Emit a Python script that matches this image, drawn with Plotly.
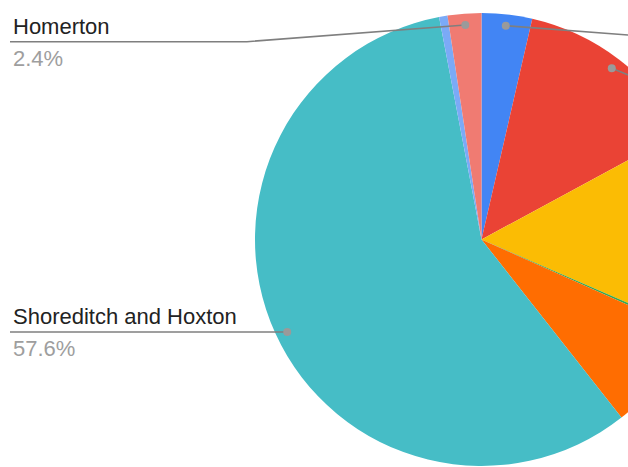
import numpy as np
import plotly.graph_objects as go

# ---- data ----
wards = ["Hackney Central", "Dalston", "Hackney Downs", "Hackney Wick",
         "Haggerston", "Shoreditch and Hoxton", "De Beauvoir", "Homerton"]
shares = [3.6, 13.5, 14.4, 0.2, 7.7, 57.6, 0.6, 2.4]
colors = ["#4285F4", "#EA4335", "#FBBC04", "#34A853",
          "#FF6D01", "#46BDC6", "#7BAAF7", "#F07B72"]
pct_labels = [f"{v:.1f}%" for v in shares]

# ---- layout geometry (pixels) ----
W, H = 900, 467
CX, CY, R = 481.5, 239.5, 226.5
FONT = "Liberation Sans, Arial, sans-serif"

def px(x):
    return x / W

def py(y):
    return 1 - y / H

fig = go.Figure(go.Pie(
    labels=wards, values=shares, sort=False, direction="clockwise", rotation=0,
    marker=dict(colors=colors, line=dict(width=0)),
    textinfo="none", hoverinfo="label+percent", showlegend=False,
    domain=dict(x=[px(CX - R), px(CX + R)], y=[py(CY + R), py(CY - R)]),
))

# leader lines / labels: index -> (side, label-line y, dot sits on label line?)
# right-side labels lie outside the visible view
labelled = {7: ("left", 41.7, False), 5: ("left", 332, True), 0: ("right", 41.7, False),
            1: ("right", 111, False), 2: ("right", None, False), 4: ("right", None, False)}

total = sum(shares)
cum = np.cumsum([0] + shares[:-1])
rd = 0.95 * R
shapes, annotations = [], []
for i, (side, ly, on_line) in labelled.items():
    mid = (cum[i] + shares[i] / 2) / total * 2 * np.pi
    dx, dy = CX + rd * np.sin(mid), CY - rd * np.cos(mid)
    if ly is None:
        ly = dy
    if on_line:
        dy = ly
        sgn = -1 if side == "left" else 1
        dx = CX + sgn * np.sqrt(rd ** 2 - (ly - CY) ** 2)
    if side == "left":
        ex, x0 = CX - 234.5, 10
    else:
        ex, x0 = CX + 234.5, 890
    shapes.append(dict(type="path", xref="paper", yref="paper",
                       path=f"M {px(x0)},{py(ly)} L {px(ex)},{py(ly)} L {px(dx)},{py(dy)}",
                       line=dict(color="#7f7f7f", width=1.6)))
    shapes.append(dict(type="circle", xref="paper", yref="paper",
                       x0=px(dx - 4), x1=px(dx + 4), y0=py(dy - 4), y1=py(dy + 4),
                       fillcolor="#9a9a9a", line=dict(width=0)))
    if side == "left":
        annotations.append(dict(x=px(11), y=py(ly - 15.5), xref="paper", yref="paper",
                                text=wards[i], showarrow=False, xanchor="left", yanchor="middle",
                                font=dict(family=FONT, size=22, color="#222222")))
        annotations.append(dict(x=px(11), y=py(ly + 16.5), xref="paper", yref="paper",
                                text=pct_labels[i], showarrow=False, xanchor="left", yanchor="middle",
                                font=dict(family=FONT, size=22, color="#9e9e9e")))

fig.update_layout(width=W, height=H, margin=dict(l=0, r=0, t=0, b=0),
                  paper_bgcolor="white", plot_bgcolor="white",
                  shapes=shapes, annotations=annotations)

fig.write_html("out.html",
               post_script="document.body.style.margin='0';"
                           "document.body.style.overflow='hidden';")
